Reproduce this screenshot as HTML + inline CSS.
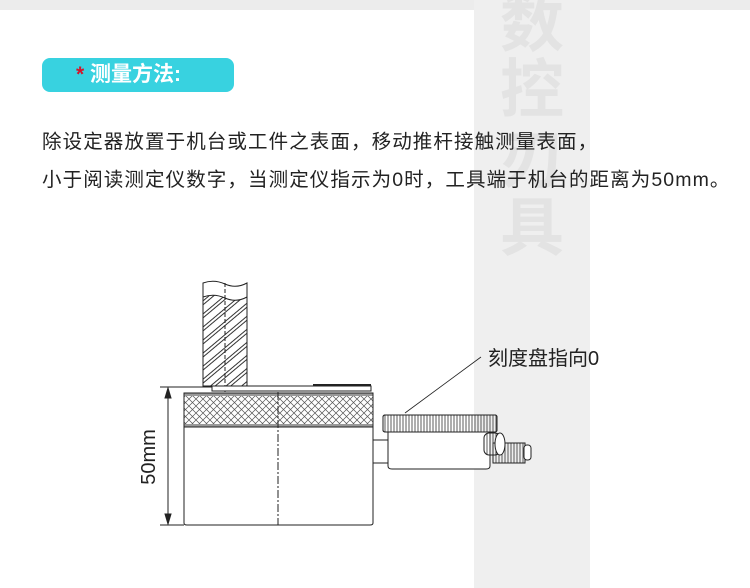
<!DOCTYPE html>
<html><head><meta charset="utf-8"><style>
html,body{margin:0;padding:0;background:#fff;}
body{width:750px;height:588px;position:relative;overflow:hidden;font-family:"Liberation Sans","Noto Sans CJK SC",sans-serif;}
.top{position:absolute;left:0;top:0;width:750px;height:10px;background:#ececec;}
.strip{position:absolute;left:474px;top:0;width:116px;height:588px;background:#efefef;}
.wm{position:absolute;left:474px;width:116px;text-align:center;font-size:64px;font-weight:bold;color:#e3e3e3;line-height:64px;}
.tag{position:absolute;left:42px;top:58px;width:192px;height:34px;background:#38d2e0;border-radius:8px;color:#fff;font-size:21px;font-weight:bold;line-height:34px;text-indent:34px;}
.tag b{color:#d4142a;}
.line{position:absolute;left:42px;font-size:19.5px;color:#222;letter-spacing:1.1px;white-space:nowrap;}
</style></head><body>
<div class="top"></div>
<div class="strip"></div>
<div class="wm" style="top:-8px">数</div>
<div class="wm" style="top:58px">控</div>
<div class="wm" style="top:128px">刃</div>
<div class="wm" style="top:196px">具</div>
<div class="tag"><b>*</b> 测量方法:</div>
<div class="line" style="top:125px">除设定器放置于机台或工件之表面，移动推杆接触测量表面，</div>
<div class="line" style="top:163px">小于阅读测定仪数字，当测定仪指示为0时，工具端于机台的距离为50mm。</div>
<svg width="750" height="588" style="position:absolute;left:0;top:0">
<defs>
<pattern id="kn" width="7" height="7" patternUnits="userSpaceOnUse">
<rect width="7" height="7" fill="#fff"/>
<path d="M0 0L7 7M7 0L0 7" stroke="#555" stroke-width="0.7"/>
</pattern>
<pattern id="hel" width="10" height="10" patternUnits="userSpaceOnUse" patternTransform="rotate(-40)">
<rect width="10" height="10" fill="#fff"/>
<path d="M0 1H10M0 4H10" stroke="#333" stroke-width="0.9"/>
</pattern>
<pattern id="vk" width="3" height="10" patternUnits="userSpaceOnUse">
<path d="M1 0V10" stroke="#333" stroke-width="0.8"/>
</pattern>
</defs>
<g stroke="#222" stroke-width="1" fill="none">
<rect x="203" y="295" width="44" height="91" fill="url(#hel)"/>
<path d="M203 283 Q214 279 225 284 T247 283 V297 Q236 303 225 298 T203 297 Z" fill="#fff"/>
<path d="M203 283V386M247 283V386"/>
<path d="M225 283V392" stroke-dasharray="4 2"/>
<path d="M212 386H371V391H212Z" fill="#fff"/>
<path d="M313 385H371" stroke-width="2"/>
<rect x="184" y="393" width="189" height="34" fill="url(#kn)"/>
<rect x="184" y="393" width="189" height="3" fill="#999" stroke="none"/>
<rect x="184" y="424" width="189" height="3" fill="#999" stroke="none"/>
<rect x="184" y="393" width="189" height="34"/>
<path d="M184 427V523Q184 525 187 525H370Q373 525 373 523V427"/>
<path d="M278 392V525" stroke-dasharray="8 2 2 2"/>
<path d="M160 387H212M160 525H184M168 388V524"/>
<path d="M165 398L168 388L171 398ZM165 514L168 524L171 514Z" fill="#222"/>
<rect x="373" y="440" width="15" height="23" fill="#fff"/>
<path d="M388 432V466Q388 469 392 469H486Q490 469 490 466V432" fill="#fff"/>
<rect x="383" y="415" width="114" height="17" rx="2" fill="url(#vk)"/>
<rect x="383" y="415" width="114" height="17" rx="2"/>
<rect x="493" y="443" width="32" height="20" fill="url(#vk)"/>
<rect x="493" y="443" width="32" height="20"/>
<rect x="524" y="445" width="7" height="15" rx="3" fill="#fff"/>
<rect x="484" y="433" width="16" height="22" rx="5" fill="url(#vk)"/>
<ellipse cx="500" cy="444" rx="5" ry="11" fill="#fff"/>
<path d="M405 413L481 357" stroke-width="0.8"/>
</g>
<text x="155" y="457" transform="rotate(-90 155 457)" text-anchor="middle" font-family="Liberation Sans, sans-serif" font-size="20" fill="#222">50mm</text>
<text x="488" y="365" font-family="Liberation Sans, Noto Sans CJK SC, sans-serif" font-size="20" fill="#222">刻度盘指向0</text>
</svg>
</body></html>
